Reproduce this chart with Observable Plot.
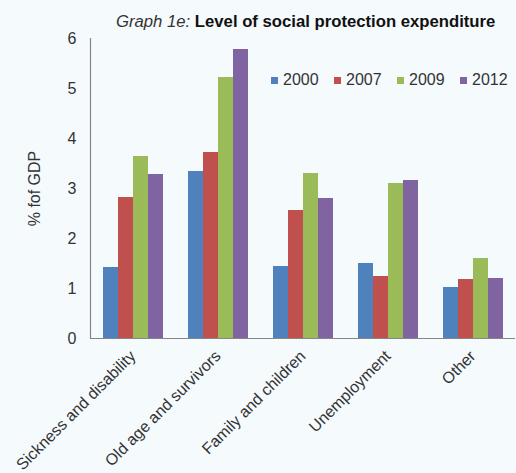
<!DOCTYPE html>
<html>
<head>
<meta charset="utf-8">
<script src="https://cdn.jsdelivr.net/npm/d3@7"></script>
<script src="https://cdn.jsdelivr.net/npm/@observablehq/plot@0.6"></script>
<style>
  html, body { margin: 0; padding: 0; background: #F5FAFD; }
  #wrap { position: relative; width: 516px; height: 473px; overflow: hidden; font-family: "Liberation Sans", Arial, sans-serif; }
  #title { height: 16px; padding-top: 14px; padding-left: 116px; font-size: 16.7px; line-height: 16px; white-space: nowrap; color: #000; }
  #title i { color: #333; font-weight: normal; }
  #title b { color: #111; }
  #legend { position: absolute; left: 271px; top: 72px; display: flex; font-size: 16px; line-height: 16px; color: #333; }
  .item { display: flex; align-items: center; width: 63px; }
  .sw { width: 7px; height: 7px; margin-right: 5px; }
</style>
</head>
<body>
<div id="wrap">
  <div id="title"><i>Graph 1e:</i> <b>Level of social protection expenditure</b></div>
  <div id="chart"></div>
  <div id="legend"></div>
</div>
<script>
const categories = ["Sickness and disability", "Old age and survivors", "Family and children", "Unemployment", "Other"];
const years = ["2000", "2007", "2009", "2012"];
const v2000 = [1.42, 3.34, 1.44, 1.50, 1.02];
const v2007 = [2.82, 3.72, 2.56, 1.24, 1.18];
const v2009 = [3.64, 5.22, 3.30, 3.10, 1.60];
const v2012 = [3.28, 5.78, 2.80, 3.16, 1.20];
const colors = ["#4F81BD", "#C0504D", "#9BBB59", "#8064A2"];
const yTicks = [0, 1, 2, 3, 4, 5, 6];
const yLabel = "% fof GDP";

const series = [v2000, v2007, v2009, v2012];
const rows = [];
categories.forEach((c, i) => {
  years.forEach((y, j) => rows.push({category: c, year: y, value: series[j][i]}));
});

const chart = Plot.plot({
  width: 516,
  height: 443,
  marginLeft: 88,
  marginRight: 0,
  marginTop: 8,
  marginBottom: 135,
  style: {background: "transparent", fontFamily: "Liberation Sans, Arial, sans-serif", color: "#333"},
  fx: {domain: categories, padding: 0},
  x: {domain: years, paddingInner: 0, paddingOuter: 0.72, axis: null},
  y: {domain: [0, 6]},
  color: {domain: years, range: colors},
  marks: [
    Plot.barY(rows, {fx: "category", x: "year", y: "value", fill: "year"}),
    Plot.ruleY([0], {stroke: "#868686", strokeWidth: 1.2}),
    Plot.frame({anchor: "left", facetAnchor: "left", stroke: "#868686", strokeWidth: 1.2}),
    Plot.axisY({ticks: yTicks, tickFormat: d3.format("d"), tickSize: 0, tickPadding: 14, fontSize: 16, fill: "#333",
      label: yLabel, labelAnchor: "center", labelOffset: 62, labelArrow: "none"}),
    Plot.axisFx({anchor: "bottom", tickRotate: -45, tickSize: 0, tickPadding: 15, fontSize: 16, fill: "#333", label: null})
  ]
});
document.getElementById("chart").appendChild(chart);

const legend = document.getElementById("legend");
years.forEach((y, j) => {
  const it = document.createElement("div");
  it.className = "item";
  const sw = document.createElement("span");
  sw.className = "sw";
  sw.style.background = colors[j];
  const t = document.createElement("span");
  t.textContent = y;
  it.appendChild(sw);
  it.appendChild(t);
  legend.appendChild(it);
});
</script>
</body>
</html>
